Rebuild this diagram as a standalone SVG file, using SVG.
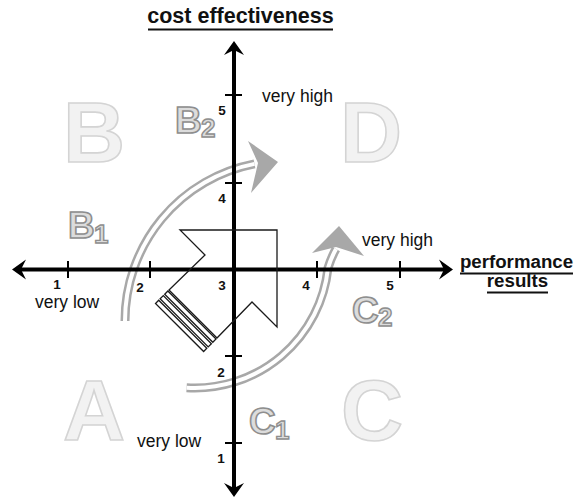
<svg xmlns="http://www.w3.org/2000/svg" width="579" height="499" viewBox="0 0 579 499">
<style>
.big{font-family:"Liberation Sans",Arial,sans-serif;font-weight:bold;font-size:86px;fill:#f2f2f2;stroke:#d4d4d4;stroke-width:1.6;text-anchor:middle}
.sub{font-family:"Liberation Sans",Arial,sans-serif;font-weight:bold;font-size:37px;fill:#dcdcdc;stroke:#8e8e8e;stroke-width:1.6}
.subs{font-family:"Liberation Sans",Arial,sans-serif;font-weight:bold;font-size:26px;fill:#dcdcdc;stroke:#8e8e8e;stroke-width:1.4}
.num{font-family:"Liberation Sans",Arial,sans-serif;font-weight:bold;font-size:13.5px;fill:#111;text-anchor:middle}
.lbl{font-family:"Liberation Sans",Arial,sans-serif;font-size:17.5px;fill:#111}
.ttl{font-family:"Liberation Sans",Arial,sans-serif;font-weight:bold;fill:#111;text-anchor:middle}
.axis{stroke:#000;stroke-width:4;fill:none}
.tick{stroke:#000;stroke-width:2}
.ul{stroke:#111;stroke-width:2.2}
.band{fill:none;stroke:#a8a8a8;stroke-width:9}
.bandin{fill:none;stroke:#fff;stroke-width:4}
.head{fill:#a8a8a8}
.outl{fill:none;stroke:#1a1a1a;stroke-width:1.3}
</style>

<g id="quadrant-B"><text class="big" x="94" y="162">B</text></g>
<g id="quadrant-D"><text class="big" x="371" y="162">D</text></g>
<g id="quadrant-A"><text class="big" x="94" y="440">A</text></g>
<g id="quadrant-C"><text class="big" x="372" y="440">C</text></g>

<g id="label-B2"><text class="sub" x="175" y="133">B</text><text class="subs" x="201" y="137">2</text></g>
<g id="label-B1"><text class="sub" x="68" y="238">B</text><text class="subs" x="94" y="243">1</text></g>
<g id="label-C2"><text class="sub" x="352" y="323">C</text><text class="subs" x="378" y="326">2</text></g>
<g id="label-C1"><text class="sub" x="249" y="434">C</text><text class="subs" x="275" y="439">1</text></g>

<g id="connectors">
  <path class="band" d="M125 321 A160 160 0 0 1 254.5 163.9"/>
  <path class="bandin" d="M125 321 A160 160 0 0 1 254.5 163.9"/>
  <polygon class="head" points="278,162 248,141 258,163 251,193"/>

  <path class="band" d="M186.6 387.7 A134 134 0 0 0 328 268 Q331 258 336 249"/>
  <path class="bandin" d="M186.6 387.7 A134 134 0 0 0 328 268 Q331 258 336 249"/>
  <polygon class="head" points="339,226 312,253 336,247 364,256"/>

  <line class="axis" x1="16" y1="269.5" x2="448" y2="269.5"/>
  <line class="axis" x1="234" y1="46" x2="234" y2="492"/>
  <path d="M12 269.5 L26 259.5 L21 269.5 L26 279.5 Z" fill="#000"/>
  <path d="M453 269.5 L439 259.5 L444 269.5 L439 279.5 Z" fill="#000"/>
  <path d="M234 41 L224 55 L234 50 L244 55 Z" fill="#000"/>
  <path d="M234 497 L224 483 L234 488 L244 483 Z" fill="#000"/>
  <line class="tick" x1="68" y1="261" x2="68" y2="278"/>
  <line class="tick" x1="150" y1="261" x2="150" y2="278"/>
  <line class="tick" x1="317" y1="261" x2="317" y2="278"/>
  <line class="tick" x1="400" y1="261" x2="400" y2="278"/>
  <line class="tick" x1="225" y1="95" x2="242" y2="95"/>
  <line class="tick" x1="225" y1="183" x2="242" y2="183"/>
  <line class="tick" x1="225" y1="356" x2="242" y2="356"/>
  <line class="tick" x1="225" y1="443" x2="242" y2="443"/>
</g>

<g id="center-arrow">
  <polygon class="outl" points="277,230 277,327 252,302 217,338 169,290 205,255 180,230"/>
  <g transform="translate(193,314) rotate(135)">
    <rect class="outl" x="1.5" y="-34" width="4.5" height="68"/>
    <rect class="outl" x="8" y="-34" width="4.5" height="68"/>
    <rect class="outl" x="14.5" y="-34" width="4.5" height="68"/>
  </g>
</g>

<g id="tick-labels">
  <text class="num" x="57" y="289">1</text>
  <text class="num" x="140" y="292">2</text>
  <text class="num" x="222" y="290">3</text>
  <text class="num" x="306" y="290">4</text>
  <text class="num" x="390" y="290">5</text>
  <text class="num" x="222" y="115">5</text>
  <text class="num" x="222" y="203">4</text>
  <text class="num" x="221" y="377">2</text>
  <text class="num" x="221" y="463">1</text>
</g>

<g id="value-labels">
  <text class="lbl" x="262" y="102">very high</text>
  <text class="lbl" x="362" y="246">very high</text>
  <text class="lbl" x="35" y="308">very low</text>
  <text class="lbl" x="137" y="447">very low</text>
</g>

<g id="axis-title-y">
  <text class="ttl" x="240.5" y="23" font-size="21.5">cost effectiveness</text>
  <line class="ul" x1="148" y1="29.5" x2="333" y2="29.5"/>
</g>
<g id="axis-title-x">
  <text class="ttl" x="516.5" y="268" font-size="18.7">performance</text>
  <line class="ul" x1="460" y1="273.5" x2="573" y2="273.5"/>
  <text class="ttl" x="517.5" y="287" font-size="18.7">results</text>
  <line class="ul" x1="487" y1="292.5" x2="548" y2="292.5"/>
</g>
</svg>
